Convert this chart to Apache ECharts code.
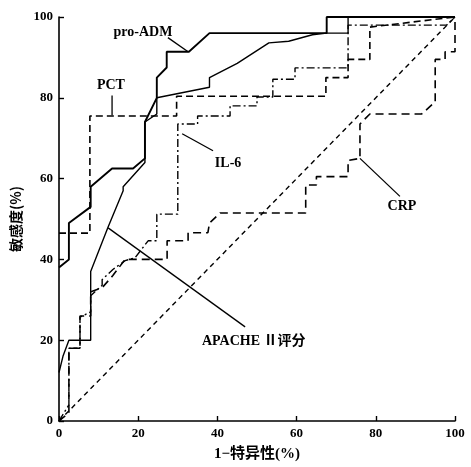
<!DOCTYPE html>
<html><head><meta charset="utf-8">
<script src="https://cdn.jsdelivr.net/npm/echarts@6/dist/echarts.min.js"></script>
<style>html,body{margin:0;padding:0;background:#fff}#c{width:471px;height:467px}</style>
</head><body><div id="c"></div>
<script>
// x = 1-特异性(%), y = 敏感度(%)
var xTicks = [0, 20, 40, 60, 80, 100];
var yTicks = [0, 20, 40, 60, 80, 100];
var proADM = [[0,38],[2.5,40],[2.5,49],[8,53],[8,58],[13.4,62.5],[18.7,62.5],[21.7,65],[21.7,74],[24.7,80],[24.7,85],[27.2,87.5],[27.2,91.4],[32.8,91.4],[38,96],[67.6,96],[67.6,100],[100,100]];
var apache = [[0,12],[1,16],[2.5,20],[8,20],[8,37],[12.4,48],[16.2,57],[16.2,58],[21.7,64],[21.7,74],[24.7,76],[24.7,80],[38,82.6],[38,85],[45,88.5],[53,93.6],[58,94],[64,95.6],[67.6,96],[73,96],[73,100],[100,100]];
var pct = [[0,46.5],[7.8,46.5],[7.8,75.5],[29.7,75.5],[29.7,80.4],[67.4,80.4],[67.4,85],[73,85],[73,89.5],[78.5,89.5],[78.5,97.5],[100,100]];
var il6 = [[0,0],[2.5,4],[2.5,18],[5.3,18],[5.3,25.7],[8,27],[8,31],[10.9,33.6],[10.9,35],[13.6,37.5],[16.7,39.7],[19.2,40.4],[22.5,44.6],[24.7,44.6],[24.7,51.2],[30,51.2],[30,73.5],[35,73.5],[35,75.5],[43.2,75.5],[43.2,78],[50,78],[50,80.2],[54,80.2],[54,84.6],[59.6,84.6],[59.6,87.4],[73,87.4],[73,98],[97.9,98],[100,100]];
var crp = [[0,0],[2.5,2],[2.5,18],[5.3,18],[5.3,26],[8,26],[8,32],[10.9,33],[13.6,36],[16.7,40],[27.3,40],[27.3,44.6],[32.6,44.6],[32.6,46.6],[37.6,46.6],[38,49],[40.7,51.5],[62.3,51.5],[62.3,58.4],[65,58.4],[65,60.5],[73,60.5],[73,64.5],[76,65],[76,73.5],[78.5,76],[91.6,76],[95,79],[95,89.5],[97.5,89.5],[97.5,91.4],[100,91.4],[100,100]];
var diagonal = [[0,0],[100,100]];
var labelNames = ['pro-ADM', 'PCT', 'IL-6', 'CRP', 'APACHE Ⅱ评分'];

// annotation placement (data units)
var labelAt = [[21.2,96.3],[13.1,83],[42.7,63.7],[86.6,53.2],[36.1,19.6]];
var leaders = [
  [[27.5,94.9],[32.6,91.4]],
  [[13.4,80.6],[13.4,75.7]],
  [[31.1,71.1],[38.9,66.9]],
  [[76,65],[86.1,55.6]],
  [[12.4,47.8],[47,23.3]]
];

var chart = echarts.init(document.getElementById('c'));
var serif = '"Liberation Serif","DejaVu Serif",serif';
var series = [];
function ln(data, w, type) {
  series.push({type:'line', data:data, symbol:'none', silent:true, animation:false,
    lineStyle:{color:'#000', width:w, type:type}});
}
ln(diagonal, 1.4, [5,4]);
ln(crp, 1.6, [8,5]);
ln(il6, 1.4, [8,3,2,3]);
ln(pct, 1.6, [7,4]);
ln(apache, 1.4, 'solid');
ln(proADM, 1.9, 'solid');
leaders.forEach(function(l){ ln(l, 1.3, 'solid'); });
labelNames.forEach(function(n, i){
  series.push({type:'scatter', symbolSize:0, silent:true, animation:false,
    itemStyle:{color:'#000', opacity:0},
    data:[labelAt[i]],
    label:{show:true, position:'inside', formatter:n, color:'#000', opacity:1,
      textBorderWidth:0, textBorderColor:'transparent',
      fontFamily: i===4 ? '"Liberation Serif","Noto Sans CJK SC",serif' : serif,
      fontSize:14, fontWeight:'bold',
      align: i===4 ? 'left' : 'center', verticalAlign:'middle'}});
});

chart.setOption({
  animation:false,
  grid:{left:59, right:16, top:17, bottom:42, containLabel:false},
  xAxis:{type:'value', min:0, max:100, interval:20,
    name:'1−特异性(%)', nameLocation:'middle', nameGap:26,
    nameTextStyle:{fontFamily:'"Liberation Serif","Noto Sans CJK SC",serif', fontWeight:'bold', fontSize:15, color:'#000'},
    axisLine:{lineStyle:{color:'#000', width:1.6}},
    axisTick:{inside:true, length:5, lineStyle:{color:'#000', width:1.4}},
    axisLabel:{fontFamily:serif, fontWeight:'bold', fontSize:13, color:'#000', margin:6},
    splitLine:{show:false}},
  yAxis:{type:'value', min:0, max:100, interval:20,
    name:'敏感度(%)', nameLocation:'middle', nameGap:33, nameRotate:90,
    nameTextStyle:{fontFamily:'"Noto Sans CJK SC",serif', fontWeight:'bold', fontSize:14, color:'#000'},
    axisLine:{lineStyle:{color:'#000', width:1.6}},
    axisTick:{inside:true, length:5, lineStyle:{color:'#000', width:1.4}},
    axisLabel:{fontFamily:serif, fontWeight:'bold', fontSize:13, color:'#000', margin:6},
    splitLine:{show:false}},
  series:series
});
</script></body></html>
